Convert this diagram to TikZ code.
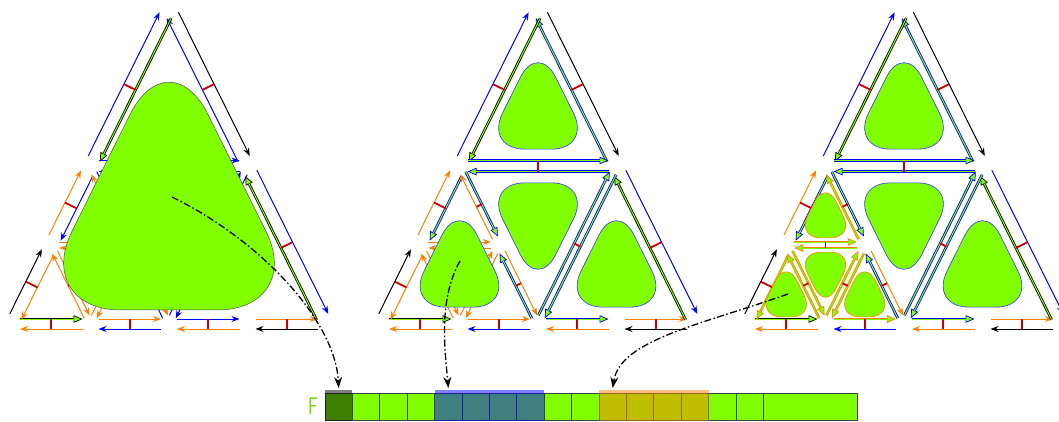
\documentclass[tikz,border=0pt]{standalone}
\usetikzlibrary{calc,arrows.meta}
\definecolor{facegreen}{RGB}{128,255,0}
\definecolor{heorange}{RGB}{255,128,0}
\definecolor{heblue}{RGB}{0,0,255}
\definecolor{tickred}{RGB}{204,0,0}

\newcommand{\meshpoints}{%
  \foreach \i/\j in {0/0,1/0,2/0,3/0,4/0,0/1,1/1,0/2,2/2,0/4}
    \coordinate (p\i\j) at ({12+78.5*\i+39.25*\j},{324-79*\j});}
\newcommand{\hedge}[5]{%
  \draw[#1] ($(#3)!8pt!(#4)!#5!90:(#4)$) -- ($(#4)!8pt!(#3)!#5!-90:(#3)$);
  \draw[#2] ($(#4)!8pt!(#3)!#5!90:(#3)$) -- ($(#3)!8pt!(#4)!#5!-90:(#4)$);
  \draw[redtick] ($(#3)!0.5!(#4)!#5!90:(#4)$) -- ($(#3)!0.5!(#4)!#5!-90:(#4)$);}
\newcommand{\face}[6]{%
  \coordinate (fo) at (barycentric cs:#2=1,#3=1,#4=1);
  \coordinate (fa) at ($(fo)!#5!(#2)$);
  \coordinate (fb) at ($(fo)!#5!(#3)$);
  \coordinate (fc) at ($(fo)!#5!(#4)$);
  \coordinate (fm) at ($(fa)!0.5!(fb)$);
  \draw[#1, rounded corners=#6] (fm) -- (fb) -- (fc) -- (fa) -- (fm);}

\tikzset{
  hplain/.style={draw=#1, line width=1pt, -{Stealth[length=8pt,width=6pt]}},
  hK/.style={hplain=black}, hB/.style={hplain=heblue}, hO/.style={hplain=heorange},
  dbl/.style={draw=#1, line width=2.6pt,
    -{Triangle[length=9pt,width=7.5pt,fill=facegreen,line width=0.7pt]},
    postaction={draw=facegreen, line width=1pt, -, shorten >=8.5pt}},
  dK/.style={dbl=black}, dB/.style={dbl=heblue}, dO/.style={dbl=heorange},
  redtick/.style={draw=tickred, line width=1.8pt},
  faceK/.style={fill=facegreen, draw=black!70, line width=0.5pt},
  faceB/.style={fill=facegreen, draw=heblue!80, line width=0.6pt},
  faceO/.style={fill=facegreen, draw=heorange, line width=0.6pt},
  cell/.style={draw=black!75, fill=facegreen, line width=0.8pt, minimum width=27.4pt,
    minimum height=27.5pt, inner sep=0pt, outer sep=0pt},
  link/.style={black, line width=1.3pt, dash pattern=on 7pt off 2.5pt on 1.5pt off 2.5pt,
    -{Stealth[length=11pt,width=8pt]}}
}

\begin{document}
\begin{tikzpicture}[x=1pt, y=-1pt]
\useasboundingbox (0,0) rectangle (1059,421);

% coarse face
\begin{scope}
\meshpoints
\hedge{dK}{hO}{p00}{p10}{5pt}
\hedge{hO}{hB}{p10}{p20}{5pt}
\hedge{hB}{hO}{p20}{p30}{5pt}
\hedge{hO}{hK}{p30}{p40}{5pt}
\hedge{dK}{hB}{p40}{p22}{6.5pt}
\hedge{hB}{hK}{p22}{p04}{6.5pt}
\hedge{dK}{hB}{p04}{p02}{6.5pt}
\hedge{hB}{hO}{p02}{p01}{6.5pt}
\hedge{hO}{hK}{p01}{p00}{6.5pt}
\hedge{hB}{hB}{p02}{p22}{5.5pt}
\hedge{hB}{hB}{p20}{p22}{3.5pt}
\hedge{hO}{hB}{p11}{p02}{3pt}
\hedge{hB}{hO}{p20}{p11}{3pt}
\hedge{hO}{hO}{p01}{p11}{3pt}
\hedge{hO}{hO}{p10}{p01}{3pt}
\hedge{hO}{hO}{p11}{p10}{3pt}
\face{faceK}{p00}{p40}{p04}{0.867}{88pt}
\coordinate (src1) at (172,197);
\end{scope}

% level one
\begin{scope}[xshift=369pt]
\meshpoints
\hedge{dK}{hO}{p00}{p10}{5pt}
\hedge{hO}{hB}{p10}{p20}{5pt}
\hedge{dB}{hO}{p20}{p30}{5pt}
\hedge{hO}{hK}{p30}{p40}{5pt}
\hedge{dK}{hB}{p40}{p22}{6.5pt}
\hedge{dB}{hK}{p22}{p04}{6.5pt}
\hedge{dK}{hB}{p04}{p02}{6.5pt}
\hedge{dB}{hO}{p02}{p01}{6.5pt}
\hedge{hO}{hK}{p01}{p00}{6.5pt}
\hedge{dB}{dB}{p02}{p22}{5.5pt}
\hedge{dB}{dB}{p20}{p22}{3.5pt}
\hedge{hO}{dB}{p11}{p02}{3pt}
\hedge{dB}{hO}{p20}{p11}{3pt}
\hedge{hO}{hO}{p01}{p11}{3pt}
\hedge{hO}{hO}{p10}{p01}{3pt}
\hedge{hO}{hO}{p11}{p10}{3pt}
\face{faceB}{p02}{p22}{p04}{0.68}{40pt}
\face{faceB}{p20}{p22}{p02}{0.68}{40pt}
\face{faceB}{p20}{p40}{p22}{0.68}{40pt}
\face{faceB}{p00}{p20}{p02}{0.68}{40pt}
\coordinate (src2) at (91,261);
\end{scope}

% level two in the corner
\begin{scope}[xshift=735pt]
\meshpoints
\hedge{dK}{hO}{p00}{p10}{5pt}
\hedge{dO}{hB}{p10}{p20}{5pt}
\hedge{dB}{hO}{p20}{p30}{5pt}
\hedge{hO}{hK}{p30}{p40}{5pt}
\hedge{dK}{hB}{p40}{p22}{6.5pt}
\hedge{dB}{hK}{p22}{p04}{6.5pt}
\hedge{dK}{hB}{p04}{p02}{6.5pt}
\hedge{dB}{hO}{p02}{p01}{6.5pt}
\hedge{dO}{hK}{p01}{p00}{6.5pt}
\hedge{dB}{dB}{p02}{p22}{5.5pt}
\hedge{dB}{dB}{p20}{p22}{3.5pt}
\hedge{dO}{dB}{p11}{p02}{3pt}
\hedge{dB}{hO}{p20}{p11}{3pt}
\hedge{dO}{dO}{p01}{p11}{3pt}
\hedge{dO}{dO}{p10}{p01}{3pt}
\hedge{dO}{dO}{p11}{p10}{3pt}
\face{faceB}{p02}{p22}{p04}{0.68}{40pt}
\face{faceB}{p20}{p22}{p02}{0.68}{40pt}
\face{faceB}{p20}{p40}{p22}{0.68}{40pt}
\face{faceO}{p00}{p10}{p01}{0.73}{24pt}
\face{faceO}{p10}{p20}{p11}{0.73}{24pt}
\face{faceO}{p01}{p11}{p02}{0.73}{24pt}
\face{faceO}{p10}{p11}{p01}{0.73}{24pt}
\coordinate (src3) at (53,294);
\end{scope}

% face array
\node[text=facegreen!85!black, font=\sffamily\fontsize{24}{24}\selectfont] (flabel) at (313,406) {\scalebox{0.75}[1]{F}};
\foreach \k in {1,...,16}
  \node[cell] (c\k) at ({325+27.4*(\k-0.5)},406.75) {};
\node[cell, minimum width=94pt] (c17) at (810,406.75) {};
\fill[black, opacity=0.5] ([yshift=3pt]c1.north west) rectangle (c1.south east);
\fill[heblue, opacity=0.5] ([yshift=3pt]c5.north west) rectangle (c8.south east);
\fill[heorange, opacity=0.5] ([yshift=3pt]c11.north west) rectangle (c14.south east);

\draw[link] (src1) .. controls (260,240) and (335,320) .. ([yshift=5pt]c1.north);
\draw[link] (src2) .. controls (438,300) and (445,350) .. ([yshift=5pt]c5.north);
\draw[link] (src3) .. controls (700,325) and (620,340) .. ([yshift=5pt]c11.north);
\end{tikzpicture}
\end{document}
